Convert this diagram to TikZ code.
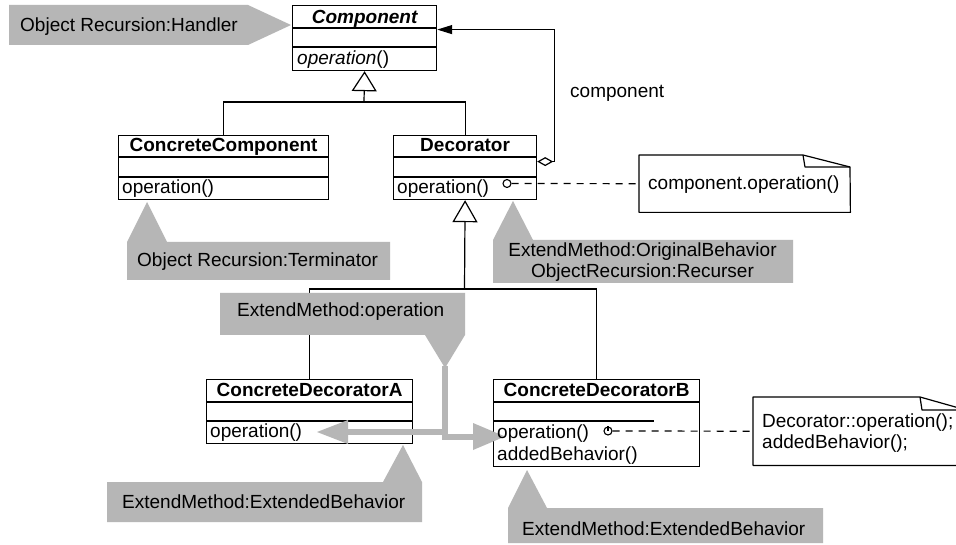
\documentclass[tikz,border=0pt]{standalone}
\usepackage{fontspec}
\setmainfont{Liberation Sans}
\usetikzlibrary{arrows.meta,calc}
\definecolor{callgray}{RGB}{182,182,182}
\begin{document}
\begin{tikzpicture}[x=1pt,y=-1pt,
  font=\fontsize{19}{22}\selectfont,
  umlline/.style={line width=1.2pt,black},
  classbox/.style={draw,line width=1.2pt,fill=white,inner sep=0pt,anchor=north west},
  txt/.style={inner sep=0pt,anchor=base west},
  ttl/.style={inner sep=0pt,anchor=base,font=\fontsize{19}{22}\selectfont\bfseries},
  callout/.style={fill=callgray,draw=none},
  notebox/.style={inner sep=0pt,anchor=north west},
  noteline/.style={line width=1.2pt,line join=round},
  notelink/.style={line width=1.2pt,dash pattern=on 7pt off 6pt},
  grayshaft/.style={draw=callgray,line width=6pt},
  graytip/.style={fill=callgray},
]
\useasboundingbox (0,0) rectangle (956,545);
\fill[white] (0,0) rectangle (956,545);
\clip (0,0) rectangle (956,545);

% ---------- class boxes ----------
\node[classbox,minimum width=144pt,minimum height=65pt] (comp) at (292,5) {};
\node[classbox,minimum width=210pt,minimum height=64pt] (cc)   at (118,135) {};
\node[classbox,minimum width=143pt,minimum height=64pt] (dec)  at (393,135) {};
\node[classbox,minimum width=206pt,minimum height=64pt] (cda)  at (206,379) {};
\node[classbox,minimum width=206pt,minimum height=87pt] (cdb)  at (493,379) {};

% compartment dividers
\draw[umlline] ([yshift=-23pt]comp.north west) -- ([yshift=-23pt]comp.north east);
\draw[umlline] ([yshift=-42pt]comp.north west) -- ([yshift=-42pt]comp.north east);
\draw[umlline] ([yshift=-22pt]cc.north west) -- ([yshift=-22pt]cc.north east);
\draw[umlline] ([yshift=-42pt]cc.north west) -- ([yshift=-42pt]cc.north east);
\draw[umlline] ([yshift=-22pt]dec.north west) -- ([yshift=-22pt]dec.north east);
\draw[umlline] ([yshift=-42pt]dec.north west) -- ([yshift=-42pt]dec.north east);
\draw[umlline] ([yshift=-23pt]cda.north west) -- ([yshift=-23pt]cda.north east);
\draw[umlline] ([yshift=-42pt]cda.north west) -- ([yshift=-42pt]cda.north east);
\draw[umlline] ([yshift=-23pt]cdb.north west) -- ([yshift=-23pt]cdb.north east);
\draw[umlline] ([yshift=-42pt]cdb.north west) -- ([yshift=-42pt,xshift=-46pt]cdb.north east);

% ---------- generalizations ----------
\coordinate (j1) at (364,102);
\draw[umlline] (cc.north) |- (j1) -| (dec.north);
\draw[umlline,-{Triangle[open,length=20pt,width=25pt]}] (j1) -- (comp.south);

\coordinate (j2) at (464.5,289);
\draw[umlline] (cda.north) |- (j2) -| (cdb.north);
\draw[umlline,-{Triangle[open,length=22pt,width=25pt]}] (j2) -- (dec.south);

% ---------- aggregation ----------
\draw[umlline,{Diamond[open,length=16pt,width=9pt]}-{Triangle[length=15pt,width=9pt]}]
  ([yshift=6pt]dec.east) -- ++(17,0) |- ([yshift=8.5pt]comp.east);
\node[txt] (rolename) at (570,98) {component};

% ---------- notes ----------
\node[notebox,minimum width=211pt,minimum height=57pt] (n1) at (639,155) {};
\draw[noteline] (n1.south west) -- (n1.north west) -- (803,155) -- (850,167) -- (n1.south east) -- cycle;
\draw[noteline] (803,155) -- (805,167) -- (850,167);
\node[txt] (n1txt) at (648,190) {component.operation()};

\node[notebox,minimum width=213pt,minimum height=68pt] (n2) at (753,397) {};
\draw[noteline] (n2.south west) -- (n2.north west) -- (920,397) -- (966,410) -- (n2.south east) -- cycle;
\draw[noteline] (920,397) -- (922,410) -- (966,410);
\node[txt] (n2a) at (762,427) {Decorator::operation();};
\node[txt] (n2b) at (762,448) {addedBehavior();};

% note anchors on the operations
\node[draw,circle,line width=1.1pt,inner sep=0pt,minimum size=8pt] (k1) at (507,183.5) {};
\draw[notelink] (k1.east) -- (n1.west);
\node[draw,circle,line width=1.1pt,inner sep=0pt,minimum size=8pt] (k2) at (608,431) {};
\draw[line width=1.1pt] (k2.north) -- (k2.center);
\draw[notelink] (k2.east) -- (n2.west);

% ---------- class texts ----------
\node[ttl,font=\fontsize{19}{22}\selectfont\bfseries\itshape] at ([yshift=-19pt]comp.north) {Component};
\node[txt] (opComp) at (297,65) {{\itshape operation}()};
\node[ttl] at ([yshift=-17pt]cc.north) {ConcreteComponent};
\node[txt] (opCC) at (122,194) {operation()};
\node[ttl] at ([yshift=-17pt]dec.north) {Decorator};
\node[txt] (opDec) at (397,194) {operation()};
\node[ttl] at ([yshift=-17pt]cda.north) {ConcreteDecoratorA};
\node[txt] (opA) at (210,437) {operation()};
\node[ttl] at ([yshift=-17pt]cdb.north) {ConcreteDecoratorB};

% ---------- gray callouts ----------
\fill[callout] (9,5) -- (248,5) -- (291,25) -- (248,45) -- (9,45) -- cycle;
\node[txt] (c1) at (20,32) {Object Recursion:Handler};

\fill[callout] (127,280) -- (127,242) -- (147,202) -- (167,242) -- (390,242) -- (390,280) -- cycle;
\node[txt] (c2) at (137,267) {Object Recursion:Terminator};

\fill[callout] (493,283) -- (493,240) -- (513,201) -- (533,240) -- (793,240) -- (793,283) -- cycle;
\node[inner sep=0pt,anchor=base] (c3a) at (642.5,257) {ExtendMethod:OriginalBehavior};
\node[inner sep=0pt,anchor=base] (c3b) at (642.5,278) {ObjectRecursion:Recurser};

\fill[callout] (220,293) -- (465,293) -- (465,335) -- (445,368) -- (425,335) -- (220,335) -- cycle;
\node[txt] (c4) at (237,317) {ExtendMethod:operation};
\coordinate (c4tip) at (445,366);

\fill[callout] (107,522) -- (107,482) -- (383,482) -- (403,445) -- (422,482) -- (422,522) -- cycle;
\node[txt] (c5) at (122,508) {ExtendMethod:ExtendedBehavior};

\fill[callout] (508,543) -- (508,508) -- (527,470) -- (547,508) -- (823,508) -- (823,543) -- cycle;
\node[txt] (c6) at (522,535) {ExtendMethod:ExtendedBehavior};

% ---------- gray flow arrows ----------
\coordinate (tipA) at (317,432);
\coordinate (tipB) at (505,436.5);
\draw[grayshaft] (c4tip) -- (445,432) -- (347,432);
\fill[graytip] (348,420) -- (tipA) -- (348,444) -- cycle;
\draw[grayshaft] (445,432) |- (474,436.5);
\fill[graytip] (473,423) -- (tipB) -- (473,450) -- cycle;

% texts of ConcreteDecoratorB lie over the arrow tip
\node[txt] (opB) at (497,438) {operation()};
\node[txt] (addB) at (497,460) {addedBehavior()};
\end{tikzpicture}
\end{document}
